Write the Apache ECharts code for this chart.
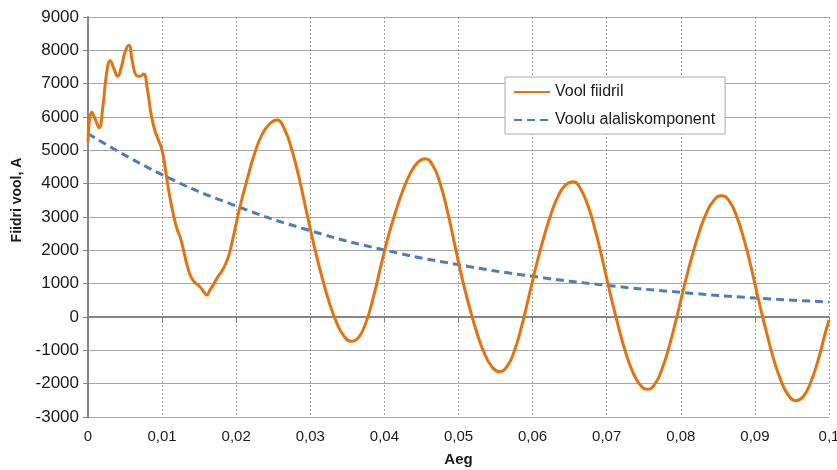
<!DOCTYPE html>
<html>
<head>
<meta charset="utf-8">
<script src="https://cdn.jsdelivr.net/npm/echarts@6/dist/echarts.min.js"></script>
<style>
html, body { margin: 0; padding: 0; background: #fff; }
#main { width: 837px; height: 470px; }
</style>
</head>
<body>
<div id="main"></div>
<script>
// Vool fiidril: time (s) and current (A)
const aegVool = [
  0, 0.0005, 0.001, 0.0015, 0.002, 0.0025, 0.003, 0.0035, 0.004, 0.0045,
  0.005, 0.0055, 0.006, 0.0065, 0.007, 0.0075, 0.008, 0.0085, 0.009, 0.0095,
  0.01, 0.0105, 0.011, 0.0115, 0.012, 0.0125, 0.013, 0.0135, 0.014, 0.0145,
  0.015, 0.0155, 0.016, 0.0165, 0.017, 0.0175, 0.018, 0.0185, 0.019, 0.0195,
  0.02, 0.0205,
  0.0215, 0.0225, 0.0235, 0.0245, 0.0255, 0.0265, 0.0275, 0.0285, 0.0295,
  0.0305, 0.0315, 0.0325, 0.0335, 0.0345, 0.0355, 0.0365, 0.0375, 0.0385, 0.0395,
  0.0405, 0.0415, 0.0425, 0.0435, 0.0445, 0.0455, 0.0465, 0.0475, 0.0485, 0.0495,
  0.0505, 0.0515, 0.0525, 0.0535, 0.0545, 0.0555, 0.0565, 0.0575, 0.0585, 0.0595,
  0.0605, 0.0615, 0.0625, 0.0635, 0.0645, 0.0655, 0.0665, 0.0675, 0.0685, 0.0695,
  0.0705, 0.0715, 0.0725, 0.0735, 0.0745, 0.0755, 0.0765, 0.0775, 0.0785, 0.0795,
  0.0805, 0.0815, 0.0825, 0.0835, 0.0845, 0.0855, 0.0865, 0.0875, 0.0885, 0.0895,
  0.0905, 0.0915, 0.0925, 0.0935, 0.0945, 0.0955, 0.0965, 0.0975, 0.0985, 0.0995,
  0.1];
const voolFiidril = [
  5250, 6150, 5920, 5680, 6300, 7300, 7690, 7450, 7220, 7500,
  7950, 8150, 7650, 7250, 7220, 7290, 6850, 6100, 5610, 5310,
  5000, 4350, 3650, 3100, 2650, 2350, 1900, 1450, 1160, 1020,
  930, 800, 660, 830, 1000, 1200, 1350, 1560, 1850, 2300,
  2800, 3300,
  4150, 4920, 5480, 5790, 5910, 5640, 5020, 4160, 3150,
  2150, 1260, 480, -140, -560, -730, -620, -170, 580, 1510,
  2400, 3150, 3800, 4310, 4640, 4750, 4560, 4020, 3180, 2160,
  1150, 280, -490, -1090, -1490, -1640, -1500, -1040, -300, 620,
  1550, 2380, 3100, 3650, 3970, 4060, 3830, 3320, 2570, 1650,
  680, -220, -1020, -1640, -2030, -2170, -2010, -1540, -830, 40,
  960, 1810, 2560, 3140, 3510, 3640, 3490, 3040, 2350, 1480,
  510, -400, -1240, -1900, -2340, -2510, -2390, -1980, -1320, -480,
  -90];

// Voolu alaliskomponent
const aegAlalis = [0, 0.01, 0.02, 0.03, 0.04, 0.05, 0.06, 0.07, 0.08, 0.09, 0.1];
const alalisKomponent = [5500, 4270, 3330, 2590, 2010, 1570, 1220, 950, 740, 570, 450];

const xTicks = { min: 0, max: 0.1, interval: 0.01 };
const yTicks = { min: -3000, max: 9000, interval: 1000 };

const pairs = (xs, ys) => xs.map((x, i) => [x, ys[i]]);

let option = {
  animation: false,
  textStyle: { fontFamily: 'Liberation Sans, Arial, sans-serif' },
  grid: { left: 88, right: 8, top: 17, bottom: 53, outerBoundsMode: 'none' },
  legend: {
    orient: 'vertical',
    left: 505,
    top: 77,
    backgroundColor: '#fff',
    borderColor: '#aaa',
    borderWidth: 1,
    padding: [7, 10, 6, 8],
    itemGap: 12,
    itemWidth: 36,
    itemHeight: 12,
    itemStyle: { opacity: 0 },
    textStyle: { fontSize: 16, color: '#1a1a1a' },
    data: ['Vool fiidril', 'Voolu alaliskomponent']
  },
  xAxis: {
    type: 'value',
    min: xTicks.min,
    max: xTicks.max,
    interval: xTicks.interval,
    name: 'Aeg',
    nameLocation: 'middle',
    nameGap: 35,
    nameTextStyle: { fontSize: 15, fontWeight: 'bold', color: '#1a1a1a' },
    axisLine: { lineStyle: { color: '#868686', width: 2 } },
    axisTick: { show: true, length: 5, lineStyle: { color: '#868686', width: 1 } },
    axisLabel: {
      fontSize: 15, color: '#1a1a1a', margin: 12,
      formatter: v => String(+v.toFixed(2)).replace('.', ',')
    },
    splitLine: { show: true, lineStyle: { color: '#a0a0a0', type: [2, 2], width: 1 } }
  },
  yAxis: {
    type: 'value',
    min: yTicks.min,
    max: yTicks.max,
    interval: yTicks.interval,
    name: 'Fiidri vool, A',
    nameLocation: 'middle',
    nameGap: 58,
    nameTextStyle: { fontSize: 14, fontWeight: 'bold', color: '#1a1a1a', padding: [0, 0, 0, 34] },
    axisLine: { show: true, lineStyle: { color: '#868686', width: 2 } },
    axisTick: { show: true, length: 5, lineStyle: { color: '#868686', width: 1 } },
    axisLabel: { fontSize: 17, color: '#1a1a1a', margin: 9, formatter: v => String(v) },
    splitLine: { show: true, lineStyle: { color: '#a6a6a6', width: 1 } }
  },
  series: [
    {
      name: 'Vool fiidril',
      type: 'line',
      data: pairs(aegVool, voolFiidril),
      smooth: 0.5,
      symbol: 'none',
      lineStyle: { color: '#E4730F', width: 3 },
      itemStyle: { color: '#E4730F' },
      z: 3
    },
    {
      name: 'Voolu alaliskomponent',
      type: 'line',
      data: pairs(aegAlalis, alalisKomponent),
      smooth: true,
      symbol: 'none',
      lineStyle: { color: '#4A7EBB', width: 3, type: [8, 5] },
      itemStyle: { color: '#4A7EBB' },
      z: 2
    }
  ]
};

let myChart = echarts.init(document.getElementById('main'));
option && myChart.setOption(option);
</script>
</body>
</html>
